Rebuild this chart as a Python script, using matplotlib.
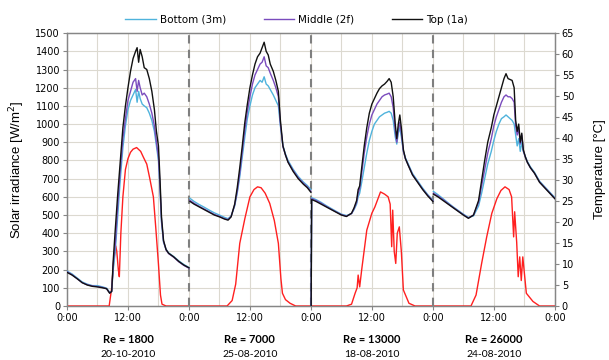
import numpy as np
import matplotlib
matplotlib.use("Agg")
import matplotlib.pyplot as plt
import matplotlib.transforms as mtrans

# ---- data: per day, hours since midnight; temperatures read in W/m2 scale
day_re = ["Re = 1800", "Re = 7000", "Re = 13000", "Re = 26000"]
day_dates = ["20-10-2010", "25-08-2010", "18-08-2010", "24-08-2010"]

t_hours = [
    [0, 1, 2, 3, 4, 5, 6, 7, 7.8, 8.4, 8.8, 9.1, 9.5, 10, 10.5, 11, 11.5, 12, 12.5, 13, 13.5, 13.8,
     14.1, 14.4, 14.8, 15.2, 15.7, 16.2, 16.7, 17.2, 17.6, 18, 18.3, 18.6, 19, 19.5, 20, 21, 22, 23, 24],
    [0.2, 1, 2, 3, 4, 5, 6, 7, 7.7, 8.3, 9, 9.5, 10, 10.5, 11, 11.5, 12, 12.5, 13, 13.5, 14, 14.4,
     14.8, 15.2, 15.6, 16, 16.6, 17.1, 17.6, 18, 18.5, 19, 19.5, 20.5, 21.5, 22.5, 23.3, 24],
    [0.05, 0.15, 1, 2, 3, 4, 5, 6, 7, 8, 8.5, 9, 9.3, 9.6, 10, 10.5, 11, 11.5, 12, 12.5, 13, 13.5,
     14, 14.5, 15, 15.4, 15.8, 16.2, 16.6, 16.9, 17.2, 17.5, 17.8, 18.2, 18.6, 19.2, 20, 21, 22, 23, 24],
    [0.1, 1, 2, 3, 4, 5, 6, 7, 8, 9, 9.6, 10.2, 10.8, 11.5, 12, 12.5, 13, 13.5, 14, 14.4, 14.8, 15.2,
     15.6, 16, 16.3, 16.6, 16.9, 17.2, 17.5, 17.8, 18.2, 18.6, 19.2, 20, 21, 22, 23, 24],
]

top_w = [
    [185, 170, 150, 128, 115, 108, 105, 100, 95, 70, 80, 250, 420, 620, 800, 980, 1100, 1200, 1290, 1360,
     1400, 1420, 1340, 1410, 1370, 1310, 1300, 1250, 1180, 1080, 960, 880, 700, 490, 360, 310, 290, 270, 245, 225, 210],
    [575, 560, 545, 530, 515, 500, 490, 478, 472, 490, 560, 650, 760, 880, 1010, 1110, 1200, 1270, 1330, 1370,
     1390, 1420, 1450, 1400, 1380, 1330, 1290, 1240, 1180, 1020, 880, 830, 790, 740, 700, 670, 650, 625],
    [0, 585, 575, 560, 545, 530, 515, 500, 492, 510, 540, 580, 640, 660, 760, 880, 980, 1060, 1110, 1140,
     1170, 1195, 1210, 1220, 1235, 1250, 1230, 1150, 1000, 920, 1000, 1050, 980, 860, 810, 770, 720, 680, 640, 605, 575],
    [615, 600, 580, 560, 540, 520, 500, 482, 500, 580, 690, 800, 900, 980, 1050, 1100, 1150, 1200, 1250, 1277,
     1250, 1245, 1240, 1200, 1020, 960, 1000, 900, 950, 860, 820, 790, 760, 730, 680, 650, 620, 590],
]
middle_w = [
    [188, 172, 150, 128, 117, 110, 107, 102, 95, 72, 80, 230, 340, 560, 750, 920, 1030, 1130, 1180, 1230,
     1250, 1180, 1240, 1200, 1160, 1170, 1150, 1110, 1060, 990, 900, 820, 660, 470, 355, 308, 288, 268, 243, 223, 208],
    [580, 565, 548, 533, 518, 503, 493, 480, 475, 492, 555, 630, 730, 850, 970, 1070, 1150, 1220, 1270, 1300,
     1330, 1340, 1370, 1320, 1310, 1280, 1240, 1200, 1150, 1000, 875, 830, 792, 745, 705, 675, 655, 630],
    [0, 590, 580, 565, 548, 532, 517, 502, 494, 508, 535, 570, 620, 645, 730, 840, 930, 1000, 1050, 1080,
     1110, 1130, 1150, 1160, 1165, 1170, 1150, 1090, 960, 900, 970, 1010, 950, 850, 810, 772, 722, 682, 642, 608, 578],
    [620, 605, 585, 563, 542, 522, 502, 484, 500, 570, 660, 750, 840, 920, 990, 1040, 1080, 1120, 1150, 1160,
     1150, 1150, 1140, 1120, 990, 940, 980, 890, 940, 855, 818, 790, 760, 730, 682, 652, 622, 592],
]
bottom_w = [
    [192, 176, 154, 132, 120, 112, 112, 105, 98, 75, 82, 200, 300, 500, 700, 870, 990, 1080, 1130, 1160,
     1190, 1120, 1180, 1140, 1110, 1100, 1090, 1060, 1020, 960, 880, 800, 640, 460, 350, 312, 292, 272, 248, 228, 212],
    [592, 575, 558, 543, 527, 512, 500, 487, 480, 495, 550, 620, 710, 820, 930, 1030, 1100, 1160, 1200, 1220,
     1240, 1230, 1260, 1220, 1210, 1190, 1160, 1130, 1100, 990, 880, 835, 800, 752, 712, 682, 662, 640],
    [0, 595, 585, 570, 552, 536, 520, 505, 497, 508, 530, 560, 600, 620, 680, 760, 840, 910, 960, 1000,
     1020, 1040, 1050, 1060, 1065, 1070, 1060, 1020, 930, 890, 950, 980, 930, 850, 815, 778, 728, 688, 648, 612, 582],
    [630, 612, 590, 567, 545, 525, 505, 487, 495, 550, 620, 700, 780, 850, 910, 960, 1000, 1030, 1040, 1050,
     1040, 1030, 1020, 1000, 940, 880, 920, 850, 900, 850, 822, 795, 765, 735, 686, 656, 626, 596],
]

# solar irradiance (W/m2)
sol_hours = [
    [0, 8.3, 8.8, 9.2, 9.6, 9.8, 10.1, 10.3, 10.6, 11, 11.5, 12, 12.5, 13, 13.7, 14.5, 15, 15.7, 16.3, 17,
     17.5, 18, 18.4, 18.7, 19.5, 24],
    [0, 7.5, 8.5, 9.2, 10, 11, 12, 12.8, 13.5, 14.2, 15, 15.9, 16.8, 17.6, 18.1, 18.4, 19, 19.9, 21, 24],
    [0, 7, 8, 8.7, 9.1, 9.3, 9.6, 10, 11, 12, 12.6, 13.7, 14.5, 15.2, 15.6, 15.9, 16.1, 16.4, 16.7, 17.0,
     17.4, 17.8, 18.2, 19.3, 20.5, 24],
    [0, 7.5, 8.5, 9.6, 10.6, 11.6, 12.6, 13.4, 14.2, 15, 15.5, 15.9, 16.1, 16.5, 16.8, 17.1, 17.4, 17.7,
     18.4, 19.7, 21, 24],
]
sol_w = [
    [0, 0, 100, 250, 330, 300, 200, 161, 400, 600, 750, 810, 845, 862, 871, 850, 820, 780, 700, 600,
     420, 230, 60, 10, 0, 0],
    [0, 0, 30, 120, 344, 480, 600, 640, 655, 650, 620, 564, 470, 344, 150, 70, 35, 15, 0, 0],
    [0, 0, 10, 70, 100, 170, 105, 200, 417, 510, 545, 627, 615, 600, 560, 326, 527, 300, 234, 400,
     435, 300, 88, 15, 0, 0],
    [0, 0, 60, 234, 380, 509, 590, 635, 655, 640, 600, 380, 518, 350, 161, 270, 140, 270, 70, 25, 0, 0],
]

series = [("Bottom (3m)", bottom_w, "#4fb3dc"),
          ("Middle (2f)", middle_w, "#7a4cbd"),
          ("Top (1a)", top_w, "#111111")]

plt.rcParams["font.family"] = "DejaVu Sans"
fig = plt.figure(figsize=(6.09, 3.6), dpi=100)
ax = fig.add_axes([0.110, 0.150, 0.801, 0.758])
ax2 = ax.twinx()

grid_c = "#dcd9d0"
for h in np.arange(6, 96, 6):
    ax.axvline(h, color=grid_c, lw=0.8, zorder=0)
for w in np.arange(100, 1500, 100):
    ax.axhline(w, color=grid_c, lw=0.8, zorder=0)

for d in range(4):
    x = np.array(sol_hours[d]) + 24 * d
    ax.plot(x, sol_w[d], color="#ff2020", lw=1.0, zorder=3)

handles = []
for name, vals, col in series:
    for d in range(4):
        x = np.array(t_hours[d]) + 24 * d
        temp = np.array(vals[d]) * 65.0 / 1500.0
        ln, = ax2.plot(x, temp, color=col, lw=1.0, zorder=3)
    handles.append((ln, name))

for d in range(1, 4):
    ax.axvline(24 * d, color="#7f7f7f", lw=1.5, ls=(0, (4, 3)), zorder=4)

ax.set_xlim(0, 96)
ax.set_ylim(0, 1500)
ax2.set_ylim(0, 65)
ax.set_xticks(np.arange(0, 97, 12))
ax.set_xticklabels(["0:00" if i % 2 == 0 else "12:00" for i in range(9)])
ax.set_yticks(np.arange(0, 1501, 100))
ax2.set_yticks(np.arange(0, 66, 5))
ax.tick_params(labelsize=7, length=3, color="#868686", pad=2)
ax2.tick_params(labelsize=7, length=3, color="#868686", pad=2)
for a in (ax, ax2):
    for s in a.spines.values():
        s.set_color("#868686")
        s.set_linewidth(0.9)

ax.set_ylabel("Solar irradiance [W/m$^2$]", fontsize=9.5, family="Liberation Sans", labelpad=6)
ax2.set_ylabel("Temperature [°C]", fontsize=9.5, family="Liberation Sans", labelpad=14)

trans = mtrans.blended_transform_factory(ax.transData, ax.transAxes)
for d in range(4):
    ax.text(24 * d + 12, -0.122, day_re[d], transform=trans, ha="center", va="center",
            fontsize=8, fontweight="bold", family="Lato")
    ax.text(24 * d + 12, -0.178, day_dates[d], transform=trans, ha="center", va="center",
            fontsize=7.5, family="Lato")

fig.legend([h for h, _ in handles], [n for _, n in handles], loc="upper center",
           bbox_to_anchor=(0.487, 0.985), ncol=3, frameon=False, fontsize=7.5,
           handlelength=2.9, columnspacing=3.6, handletextpad=0.4)

fig.savefig("out.png", dpi=100)
